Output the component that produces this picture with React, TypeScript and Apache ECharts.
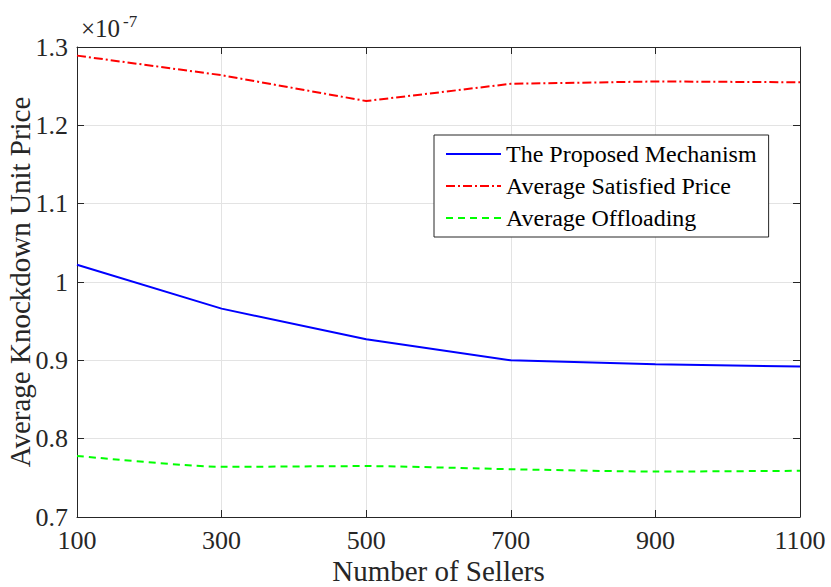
import React, { useEffect, useRef } from "react";
import * as echarts from "echarts";

const sellers = ["100", "300", "500", "700", "900", "1100"];
const proposed = [1.022, 0.966, 0.927, 0.9, 0.895, 0.892];
const satisfied = [1.289, 1.264, 1.231, 1.253, 1.256, 1.255];
const offloading = [0.778, 0.764, 0.765, 0.761, 0.758, 0.759];
const seriesNames = ["The Proposed Mechanism", "Average Satisfied Price", "Average Offloading"];

const FONT = "'Liberation Serif', 'Times New Roman', serif";
const AX = "#262626";

export default function App() {
  const ref = useRef<HTMLDivElement>(null);
  useEffect(() => {
    const chart = echarts.init(ref.current!, null, { renderer: "svg" });
    const axisCommon = {
      axisLine: { show: true, lineStyle: { color: AX, width: 1 } },
      axisTick: { show: true, inside: true, length: 7, lineStyle: { color: AX } },
    };
    chart.setOption({
      animation: false,
      backgroundColor: "#ffffff",
      textStyle: { fontFamily: FONT },
      grid: { left: 77, right: 31, top: 47, bottom: 70, containLabel: false, outerBoundsMode: "none" },
      legend: {
        orient: "vertical",
        left: 434,
        top: 135,
        itemWidth: 55,
        itemHeight: 14,
        itemGap: 8,
        padding: [7, 12, 7, 11],
        borderColor: "#262626",
        borderWidth: 1,
        backgroundColor: "#ffffff",
        itemStyle: { opacity: 0 },
        textStyle: { fontFamily: FONT, fontSize: 24, color: "#000", width: 263, padding: [0, 0, 0, 0] },
        data: seriesNames,
      },
      xAxis: [
        {
          type: "category",
          data: sellers,
          boundaryGap: false,
          ...axisCommon,
          axisLabel: { fontFamily: FONT, fontSize: 26, color: AX, margin: 10 },
          splitLine: { show: true, lineStyle: { color: "#e3e3e3" } },
          name: "Number of Sellers",
          nameLocation: "middle",
          nameGap: 39,
          nameMoveOverlap: false,
          nameTextStyle: { fontFamily: FONT, fontSize: 29, color: AX },
        },
        {
          type: "category",
          data: sellers,
          boundaryGap: false,
          position: "top",
          ...axisCommon,
          axisLabel: { show: false },
          splitLine: { show: false },
        },
      ],
      yAxis: [
        {
          type: "value",
          min: 0.7,
          max: 1.3,
          interval: 0.1,
          ...axisCommon,
          axisLabel: {
            fontFamily: FONT,
            fontSize: 26,
            color: AX,
            margin: 9,
            formatter: (v: number) => {
              const r = Math.round(v * 10) / 10;
              return r === 1 ? "1" : r.toFixed(1);
            },
          },
          splitLine: { show: true, lineStyle: { color: "#e3e3e3" } },
          name: "Average Knockdown Unit Price",
          nameLocation: "middle",
          nameGap: 43,
          nameMoveOverlap: false,
          nameTextStyle: { fontFamily: FONT, fontSize: 29, color: AX },
        },
        {
          type: "value",
          min: 0.7,
          max: 1.3,
          interval: 0.1,
          position: "right",
          ...axisCommon,
          axisLabel: { show: false },
          splitLine: { show: false },
        },
      ],
      graphic: [
        {
          type: "text",
          left: 81,
          top: 16,
          style: { text: "×10", fontFamily: FONT, fontSize: 25, fill: AX },
        },
        {
          type: "text",
          left: 123,
          top: 13,
          style: { text: "-7", fontFamily: FONT, fontSize: 17, fill: AX },
        },
      ],
      series: [
        {
          name: seriesNames[0],
          type: "line",
          data: proposed,
          symbol: "none",
          lineStyle: { color: "#0000ff", width: 2, type: "solid" },
          itemStyle: { color: "#0000ff" },
        },
        {
          name: seriesNames[1],
          type: "line",
          data: satisfied,
          symbol: "none",
          lineStyle: { color: "#ff0000", width: 2, type: [9, 3, 2, 3] },
          itemStyle: { color: "#ff0000" },
        },
        {
          name: seriesNames[2],
          type: "line",
          data: offloading,
          symbol: "none",
          smooth: 0.2,
          lineStyle: { color: "#00ff00", width: 2, type: [7, 5] },
          itemStyle: { color: "#00ff00" },
        },
      ],
    });
    return () => chart.dispose();
  }, []);
  return <div ref={ref} style={{ position: "fixed", left: 0, top: 0, width: 831, height: 587 }} />;
}
